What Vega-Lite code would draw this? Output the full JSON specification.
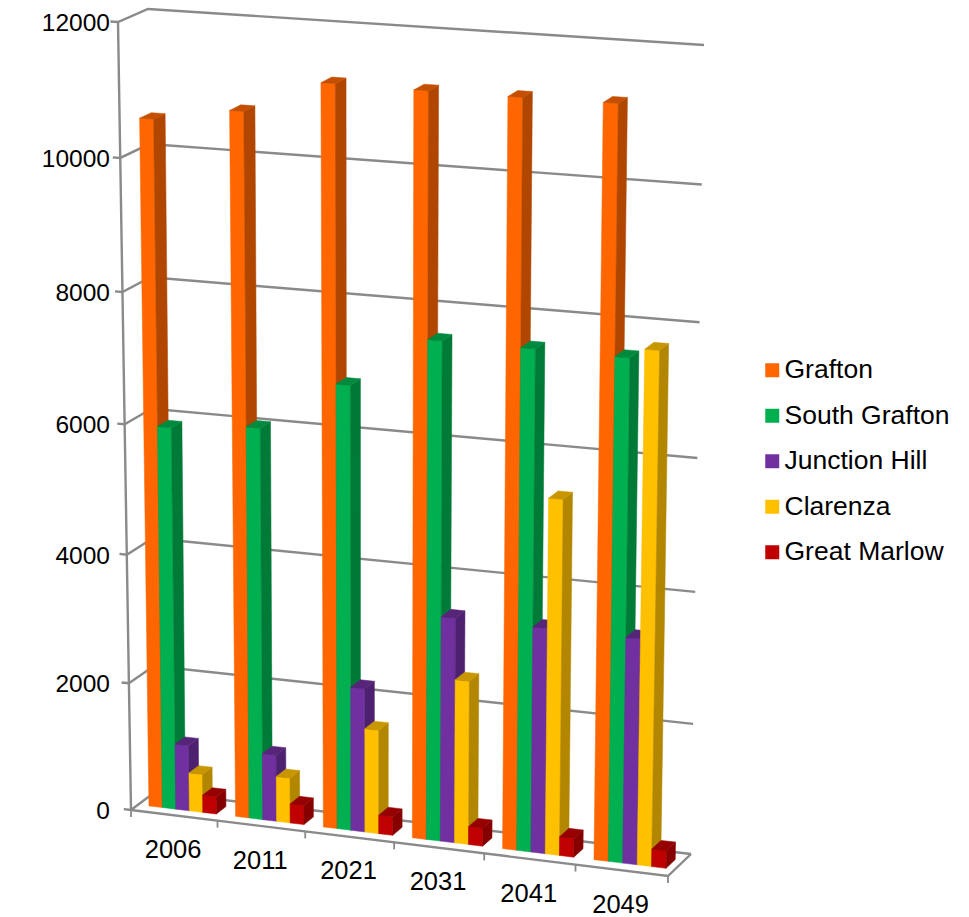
{
  "$schema": "https://vega.github.io/schema/vega-lite/v6.json",
  "width": 969,
  "height": 917,
  "padding": 0,
  "autosize": {"type": "none"},
  "background": "white",
  "config": {"view": {"stroke": null}, "font": "Liberation Sans"},
  "datasets": {
    "population": [
      {"year": "2006", "place": "Grafton", "value": 10540},
      {"year": "2006", "place": "South Grafton", "value": 5930},
      {"year": "2006", "place": "Junction Hill", "value": 1030},
      {"year": "2006", "place": "Clarenza", "value": 600},
      {"year": "2006", "place": "Great Marlow", "value": 275},
      {"year": "2011", "place": "Grafton", "value": 10750},
      {"year": "2011", "place": "South Grafton", "value": 6050},
      {"year": "2011", "place": "Junction Hill", "value": 1040},
      {"year": "2011", "place": "Clarenza", "value": 705},
      {"year": "2011", "place": "Great Marlow", "value": 300},
      {"year": "2021", "place": "Grafton", "value": 11250},
      {"year": "2021", "place": "South Grafton", "value": 6820},
      {"year": "2021", "place": "Junction Hill", "value": 2230},
      {"year": "2021", "place": "Clarenza", "value": 1610},
      {"year": "2021", "place": "Great Marlow", "value": 290},
      {"year": "2031", "place": "Grafton", "value": 11240},
      {"year": "2031", "place": "South Grafton", "value": 7600},
      {"year": "2031", "place": "Junction Hill", "value": 3460},
      {"year": "2031", "place": "Clarenza", "value": 2520},
      {"year": "2031", "place": "Great Marlow", "value": 280},
      {"year": "2041", "place": "Grafton", "value": 11240},
      {"year": "2041", "place": "South Grafton", "value": 7600},
      {"year": "2041", "place": "Junction Hill", "value": 3450},
      {"year": "2041", "place": "Clarenza", "value": 5410},
      {"year": "2041", "place": "Great Marlow", "value": 290},
      {"year": "2049", "place": "Grafton", "value": 11250},
      {"year": "2049", "place": "South Grafton", "value": 7590},
      {"year": "2049", "place": "Junction Hill", "value": 3440},
      {"year": "2049", "place": "Clarenza", "value": 7735},
      {"year": "2049", "place": "Great Marlow", "value": 270}
    ],
    "ticks": [{"tick": 0}, {"tick": 2000}, {"tick": 4000}, {"tick": 6000}, {"tick": 8000}, {"tick": 10000}, {"tick": 12000}],
    "years": [{"year": "2006", "slot": 0}, {"year": "2011", "slot": 1}, {"year": "2021", "slot": 2}, {"year": "2031", "slot": 3}, {"year": "2041", "slot": 4}, {"year": "2049", "slot": 5}],
    "edges": [{"edge": 0}, {"edge": 1}, {"edge": 2}, {"edge": 3}, {"edge": 4}, {"edge": 5}, {"edge": 6}]
  },
  "encoding": {
    "x": {"field": "px", "type": "quantitative", "scale": {"domain": [0, 969], "nice": false, "zero": false}, "axis": null},
    "y": {"field": "py", "type": "quantitative", "scale": {"domain": [917, 0], "nice": false, "zero": false}, "axis": null}
  },
  "layer": [
    {
      "description": "Back wall and side wall gridlines, with the short tick left of the front edge",
      "data": {"name": "ticks"},
      "transform": [
        {"calculate": "[0,1,2,3]", "as": "k"},
        {"flatten": ["k"]},
        {"calculate": "datum.k==0?-0.014:(datum.k==3?1:0)", "as": "U"},
        {"calculate": "datum.k<2?0:1", "as": "V"},
        {"calculate": "datum.tick/12000", "as": "H"},
        {"calculate": "datum.H-0.042*datum.H*(1-datum.H)", "as": "W"},
        {"calculate": "datum.U-0.04*datum.U*(1-datum.U)", "as": "S"},
        {"calculate": "(1-datum.W)*((1-datum.V)*((1-datum.S)*131+datum.S*668)+datum.V*((1-datum.S)*155+datum.S*691))+datum.W*((1-datum.V)*((1-datum.S)*118+datum.S*682)+datum.V*((1-datum.S)*148+datum.S*704))", "as": "px"},
        {"calculate": "(1-datum.W)*((1-datum.V)*((1-datum.S)*810+datum.S*876)+datum.V*((1-datum.S)*792+datum.S*854))+datum.W*((1-datum.V)*((1-datum.S)*22+datum.S*60)+datum.V*((1-datum.S)*9+datum.S*45))", "as": "py"}
      ],
      "mark": {"type": "line", "stroke": "#8a8a8a", "strokeWidth": 2.4, "interpolate": "linear"},
      "encoding": {"detail": {"field": "tick"}, "order": {"field": "k"}}
    },
    {
      "description": "Floor outline",
      "data": {"name": "ticks"},
      "transform": [
        {"filter": "datum.tick==0"},
        {"calculate": "[0,1,2]", "as": "k"},
        {"flatten": ["k"]},
        {"calculate": "datum.k==0?0:1", "as": "U"},
        {"calculate": "datum.k==2?1:0", "as": "V"},
        {"calculate": "0", "as": "W"},
        {"calculate": "datum.U", "as": "S"},
        {"calculate": "(1-datum.V)*((1-datum.S)*131+datum.S*668)+datum.V*((1-datum.S)*155+datum.S*691)", "as": "px"},
        {"calculate": "(1-datum.V)*((1-datum.S)*810+datum.S*876)+datum.V*((1-datum.S)*792+datum.S*854)", "as": "py"}
      ],
      "mark": {"type": "line", "stroke": "#8a8a8a", "strokeWidth": 2.4},
      "encoding": {"order": {"field": "k"}}
    },
    {
      "description": "Value axis line along the front left edge",
      "data": {"name": "ticks"},
      "transform": [
        {"calculate": "datum.tick/12000", "as": "H"},
        {"calculate": "datum.H-0.042*datum.H*(1-datum.H)", "as": "W"},
        {"calculate": "(1-datum.W)*131+datum.W*118", "as": "px"},
        {"calculate": "(1-datum.W)*810+datum.W*22", "as": "py"}
      ],
      "mark": {"type": "line", "stroke": "#8a8a8a", "strokeWidth": 2.4},
      "encoding": {"order": {"field": "tick"}}
    },
    {
      "description": "Category ticks below the front floor edge",
      "data": {"name": "edges"},
      "transform": [
        {"calculate": "[0,1]", "as": "k"},
        {"flatten": ["k"]},
        {"calculate": "datum.edge/6", "as": "U"},
        {"calculate": "datum.U-0.04*datum.U*(1-datum.U)", "as": "S"},
        {"calculate": "(1-datum.S)*131+datum.S*668", "as": "px"},
        {"calculate": "(1-datum.S)*810+datum.S*876+datum.k*7", "as": "py"}
      ],
      "mark": {"type": "line", "stroke": "#8a8a8a", "strokeWidth": 1.8},
      "encoding": {"detail": {"field": "edge"}, "order": {"field": "k"}}
    },
    {
      "description": "Front, side and top face of every bar, painted left to right",
      "data": {"name": "population"},
      "transform": [
        {"calculate": "indexof(['2006','2011','2021','2031','2041','2049'],datum.year)", "as": "slot"},
        {"calculate": "indexof(['Grafton','South Grafton','Junction Hill','Clarenza','Great Marlow'],datum.place)", "as": "series"},
        {"calculate": "(datum.slot+0.125+datum.series*0.156)/6", "as": "U0"},
        {"calculate": "(datum.slot+0.125+(datum.series+1)*0.156)/6", "as": "U1"},
        {"calculate": "datum.value/12000", "as": "H"},
        {"calculate": "datum.H-0.042*datum.H*(1-datum.H)", "as": "T"},
        {"calculate": "['front','side','top']", "as": "face"},
        {"flatten": ["face"]},
        {"calculate": "[0,1,2,3]", "as": "k"},
        {"flatten": ["k"]},
        {"calculate": "datum.face=='side'?datum.U1:((datum.k==0||datum.k==3)?datum.U0:datum.U1)", "as": "U"},
        {"calculate": "datum.face=='front'?0.3:(datum.face=='side'?((datum.k==0||datum.k==3)?0.3:0.7):(datum.k<2?0.3:0.7))", "as": "V"},
        {"calculate": "datum.face=='top'?datum.T:(datum.k<2?0:datum.T)", "as": "W"},
        {"calculate": "datum.U-0.04*datum.U*(1-datum.U)", "as": "S"},
        {"calculate": "(1-datum.W)*((1-datum.V)*((1-datum.S)*131+datum.S*668)+datum.V*((1-datum.S)*155+datum.S*691))+datum.W*((1-datum.V)*((1-datum.S)*118+datum.S*682)+datum.V*((1-datum.S)*148+datum.S*704))", "as": "px"},
        {"calculate": "(1-datum.W)*((1-datum.V)*((1-datum.S)*810+datum.S*876)+datum.V*((1-datum.S)*792+datum.S*854))+datum.W*((1-datum.V)*((1-datum.S)*22+datum.S*60)+datum.V*((1-datum.S)*9+datum.S*45))", "as": "py"},
        {"calculate": "datum.place+'|'+datum.face", "as": "shade"},
        {"calculate": "datum.year+'|'+datum.shade", "as": "polygon"}
      ],
      "mark": {"type": "line", "interpolate": "linear-closed", "strokeWidth": 0.5},
      "encoding": {
        "detail": {"field": "polygon"},
        "order": {"field": "k"},
        "fill": {
          "field": "shade",
          "scale": {
            "domain": ["Grafton|front", "Grafton|side", "Grafton|top", "South Grafton|front", "South Grafton|side", "South Grafton|top", "Junction Hill|front", "Junction Hill|side", "Junction Hill|top", "Clarenza|front", "Clarenza|side", "Clarenza|top", "Great Marlow|front", "Great Marlow|side", "Great Marlow|top"],
            "range": ["#ff6600", "#b04600", "#c44f00", "#00b050", "#007a37", "#008a3e", "#7030a0", "#4d2170", "#56257a", "#ffc000", "#b38600", "#c89600", "#c00000", "#860000", "#960000"]
          },
          "legend": null
        },
        "stroke": {
          "field": "shade",
          "scale": {
            "domain": ["Grafton|front", "Grafton|side", "Grafton|top", "South Grafton|front", "South Grafton|side", "South Grafton|top", "Junction Hill|front", "Junction Hill|side", "Junction Hill|top", "Clarenza|front", "Clarenza|side", "Clarenza|top", "Great Marlow|front", "Great Marlow|side", "Great Marlow|top"],
            "range": ["#ff6600", "#b04600", "#c44f00", "#00b050", "#007a37", "#008a3e", "#7030a0", "#4d2170", "#56257a", "#ffc000", "#b38600", "#c89600", "#c00000", "#860000", "#960000"]
          },
          "legend": null
        }
      }
    },
    {
      "description": "Value axis labels",
      "data": {"name": "ticks"},
      "transform": [
        {"calculate": "datum.tick/12000", "as": "H"},
        {"calculate": "datum.H-0.042*datum.H*(1-datum.H)", "as": "W"},
        {"calculate": "110", "as": "px"},
        {"calculate": "(1-datum.W)*810+datum.W*22+2", "as": "py"}
      ],
      "mark": {"type": "text", "align": "right", "baseline": "middle", "fontSize": 24.5, "color": "#000000"},
      "encoding": {"text": {"field": "tick", "type": "quantitative", "format": "d"}}
    },
    {
      "description": "Year labels under the front floor edge",
      "data": {"name": "years"},
      "transform": [
        {"calculate": "(datum.slot+0.5)/6", "as": "U"},
        {"calculate": "datum.U-0.04*datum.U*(1-datum.U)", "as": "S"},
        {"calculate": "(1-datum.S)*131+datum.S*668-1", "as": "px"},
        {"calculate": "(1-datum.S)*810+datum.S*876+34.5", "as": "py"}
      ],
      "mark": {"type": "text", "align": "center", "baseline": "middle", "fontSize": 25.5, "color": "#000000"},
      "encoding": {"text": {"field": "year"}}
    },
    {
      "description": "Carrier for the colour legend of the five places",
      "data": {"name": "population"},
      "transform": [{"calculate": "0", "as": "px"}, {"calculate": "0", "as": "py"}],
      "mark": {"type": "point", "filled": true, "shape": "square", "opacity": 0},
      "encoding": {
        "color": {
          "field": "place",
          "scale": {
            "domain": ["Grafton", "South Grafton", "Junction Hill", "Clarenza", "Great Marlow"],
            "range": ["#ff6600", "#00b050", "#7030a0", "#ffc000", "#c00000"]
          },
          "legend": {
            "orient": "none",
            "legendX": 759,
            "legendY": 357,
            "title": null,
            "padding": 0,
            "symbolType": "square",
            "symbolSize": 196,
            "symbolOpacity": 1,
            "symbolStrokeWidth": 0,
            "labelFontSize": 26.5,
            "labelFont": "Liberation Sans",
            "labelColor": "#000000",
            "labelLimit": 400,
            "labelOffset": -1,
            "rowPadding": 18.5
          }
        }
      }
    }
  ]
}
